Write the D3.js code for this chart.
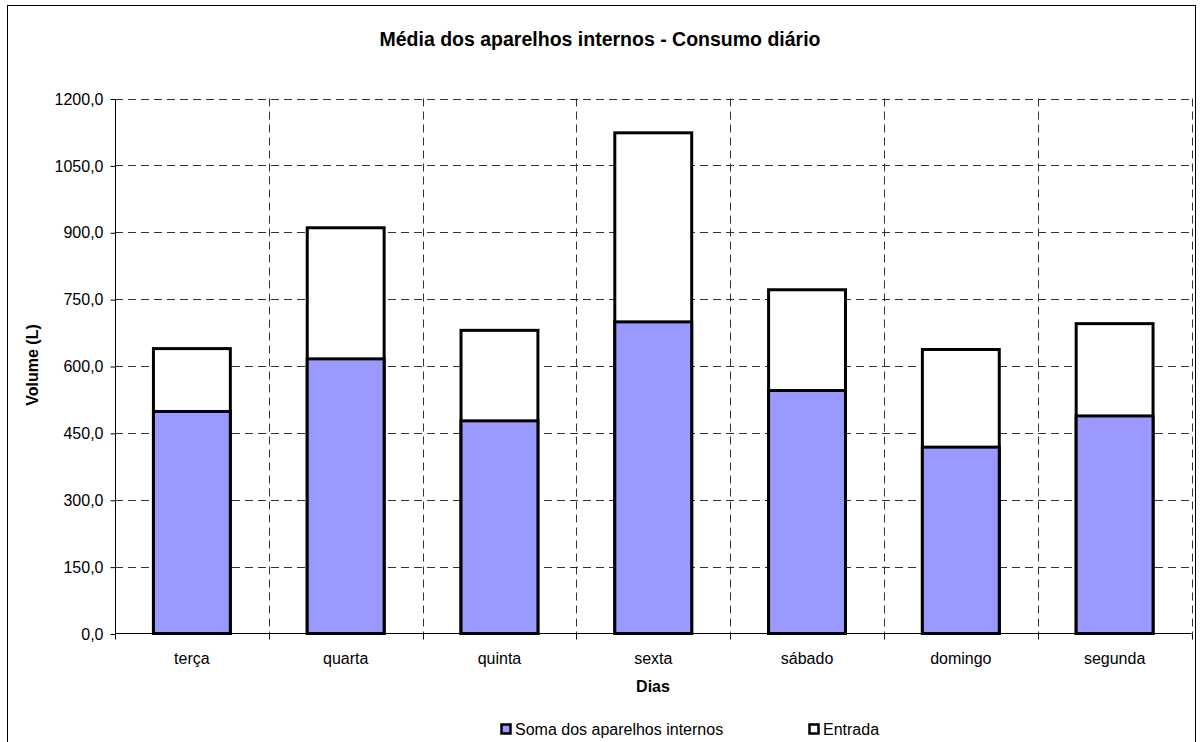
<!DOCTYPE html>
<html>
<head>
<meta charset="utf-8">
<script src="https://cdn.jsdelivr.net/npm/d3@7"></script>
<style>
  body { margin: 0; background: #fff; }
  text { font-family: "Liberation Sans", Arial, sans-serif; fill: #000; }
</style>
</head>
<body>
<svg id="chart" width="1202" height="742"></svg>
<script>
// Data
var dias = ["terça", "quarta", "quinta", "sexta", "sábado", "domingo", "segunda"];
var somaAparelhos = [498, 616, 477, 699, 545, 418, 488];
var entrada = [639, 910, 680, 1123, 771, 637, 695];
var yTicks = [0, 150, 300, 450, 600, 750, 900, 1050, 1200];
var seriesNames = ["Soma dos aparelhos internos", "Entrada"];
var seriesColors = ["#9999ff", "#ffffff"];

var svg = d3.select("#chart");

// plot area
var plotLeft = 115, plotRight = 1191.5, plotTop = 98.5, plotBottom = 633.5;

// outer frame
svg.append("rect")
  .attr("x", 7.5).attr("y", 5.5)
  .attr("width", 1188).attr("height", 760)
  .style("fill", "none").style("stroke", "#000").style("stroke-width", 1);

var x = d3.scaleBand()
  .domain(dias)
  .range([plotLeft, plotRight])
  .paddingInner(0.5)
  .paddingOuter(0.25);

var y = d3.scaleLinear()
  .domain([0, 1200])
  .range([plotBottom, plotTop]);

// horizontal gridlines
svg.selectAll(".hgrid")
  .data(yTicks.filter(function (d) { return d > 0; }))
  .enter().append("line")
  .attr("class", "hgrid")
  .attr("x1", plotLeft).attr("x2", plotRight)
  .attr("y1", function (d) { return Math.round(y(d)) + 0.5; })
  .attr("y2", function (d) { return Math.round(y(d)) + 0.5; })
  .style("stroke", "#333")
  .style("stroke-width", 1)
  .style("stroke-dasharray", "8,5");

// vertical gridlines at category boundaries
var bounds = d3.range(1, dias.length + 1);
svg.selectAll(".vgrid")
  .data(bounds)
  .enter().append("line")
  .attr("class", "vgrid")
  .attr("x1", function (i) { return Math.round(plotLeft + i * x.step()) + 0.5; })
  .attr("x2", function (i) { return Math.round(plotLeft + i * x.step()) + 0.5; })
  .attr("y1", plotTop).attr("y2", plotBottom)
  .style("stroke", "#333")
  .style("stroke-width", 1)
  .style("stroke-dasharray", "8,5");

// Entrada bars (behind)
svg.selectAll(".entrada")
  .data(entrada)
  .enter().append("rect")
  .attr("class", "entrada")
  .attr("x", function (d, i) { return x(dias[i]); })
  .attr("y", function (d) { return y(d); })
  .attr("width", x.bandwidth())
  .attr("height", function (d) { return y(0) - y(d); })
  .style("fill", seriesColors[1])
  .style("stroke", "#000")
  .style("stroke-width", 3);

// Soma bars (front)
svg.selectAll(".soma")
  .data(somaAparelhos)
  .enter().append("rect")
  .attr("class", "soma")
  .attr("x", function (d, i) { return x(dias[i]); })
  .attr("y", function (d) { return y(d); })
  .attr("width", x.bandwidth())
  .attr("height", function (d) { return y(0) - y(d); })
  .style("fill", seriesColors[0])
  .style("stroke", "#000")
  .style("stroke-width", 3);

// y axis
var yAxis = d3.axisLeft(y)
  .tickValues(yTicks)
  .tickSize(5)
  .tickFormat(function (d) { return d3.format(".1f")(d).replace(".", ","); });

var gy = svg.append("g")
  .attr("transform", "translate(" + (plotLeft + 0.5) + ",0.5)")
  .call(yAxis);
gy.select(".domain").attr("d", "M0," + plotTop + "V" + plotBottom).style("stroke", "#000");
gy.selectAll(".tick line").style("stroke", "#000");
gy.selectAll("text")
  .attr("x", -12)
  .style("font-size", "16px")
  .style("font-family", "Liberation Sans, Arial, sans-serif");

// x axis
var gx = svg.append("g")
  .attr("transform", "translate(0," + plotBottom + ")");
gx.append("line")
  .attr("x1", plotLeft).attr("x2", plotRight)
  .attr("y1", 0).attr("y2", 0)
  .style("stroke", "#000");
gx.selectAll(".xtick")
  .data(d3.range(0, dias.length + 1))
  .enter().append("line")
  .attr("x1", function (i) { return Math.round(plotLeft + i * x.step()) + 0.5; })
  .attr("x2", function (i) { return Math.round(plotLeft + i * x.step()) + 0.5; })
  .attr("y1", 0).attr("y2", 6)
  .style("stroke", "#000");
gx.selectAll(".xlabel")
  .data(dias)
  .enter().append("text")
  .attr("x", function (d) { return x(d) + x.bandwidth() / 2; })
  .attr("y", 30)
  .attr("text-anchor", "middle")
  .style("font-size", "16px")
  .text(function (d) { return d; });

// titles
svg.append("text")
  .attr("x", 600).attr("y", 46)
  .attr("text-anchor", "middle")
  .style("font-size", "19.5px").style("font-weight", "bold")
  .text("Média dos aparelhos internos - Consumo diário");

svg.append("text")
  .attr("x", 653).attr("y", 692)
  .attr("text-anchor", "middle")
  .style("font-size", "16px").style("font-weight", "bold")
  .text("Dias");

svg.append("text")
  .attr("transform", "translate(38,365) rotate(-90)")
  .attr("text-anchor", "middle")
  .style("font-size", "16px").style("font-weight", "bold")
  .text("Volume (L)");

// legend
var legendX = [501, 809];
var legend = svg.selectAll(".legend")
  .data(seriesNames)
  .enter().append("g")
  .attr("class", "legend")
  .attr("transform", function (d, i) { return "translate(" + legendX[i] + ",724)"; });
legend.append("rect")
  .attr("x", 0.5).attr("y", 0.5)
  .attr("width", 9).attr("height", 9)
  .style("fill", function (d, i) { return seriesColors[i]; })
  .style("stroke", "#000")
  .style("stroke-width", 2.5);
legend.append("text")
  .attr("x", 14).attr("y", 10.5)
  .style("font-size", "16px")
  .text(function (d) { return d; });
</script>
</body>
</html>
